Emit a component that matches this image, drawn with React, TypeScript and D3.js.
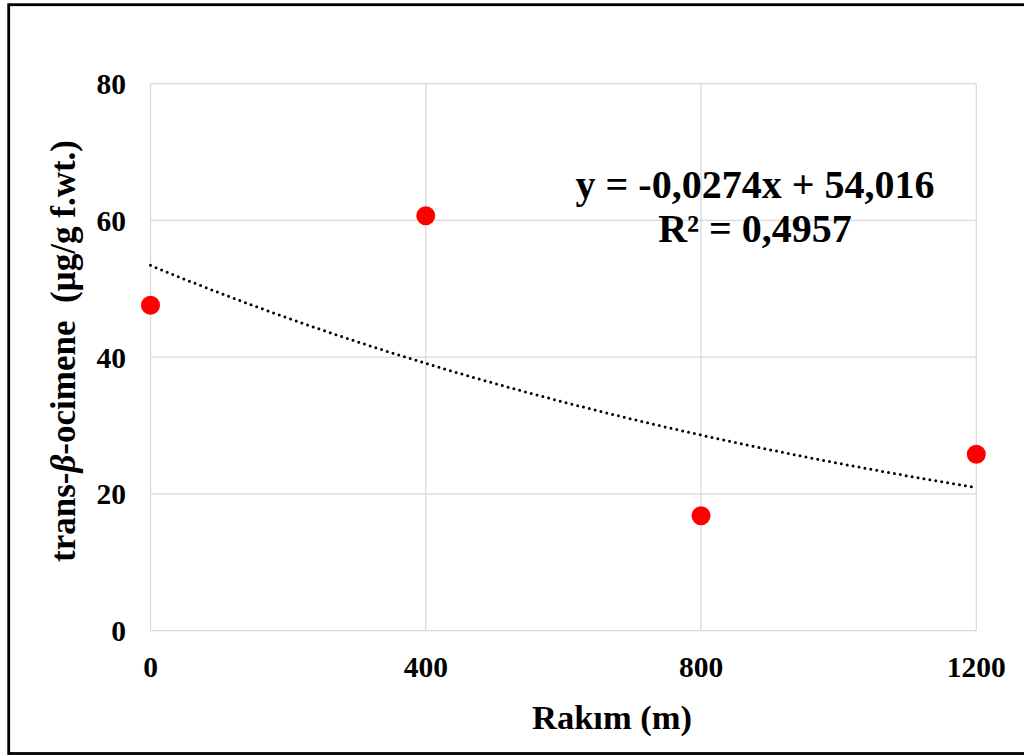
import React from "react";
import * as d3 from "d3";

const altitudes = [0, 400, 800, 1200];
const ocimene = [47.6, 60.7, 16.8, 25.8];
const xTicks = [0, 400, 800, 1200];
const yTicks = [0, 20, 40, 60, 80];
const equationText = "y = -0,0274x + 54,016";
const r2Text = "R² = 0,4957";

const W = 1024;
const H = 755;
const FONT = "'Liberation Serif', 'Times New Roman', serif";

export default function App() {
  const x = d3.scaleLinear().domain([0, 1200]).range([150.5, 976.3]);
  const y = d3.scaleLinear().domain([0, 80]).range([630.7, 83.7]);

  // exponential trend fit (least squares on ln y)
  const lnY = ocimene.map((v) => Math.log(v));
  const mx = d3.mean(altitudes)!;
  const my = d3.mean(lnY)!;
  let num = 0,
    den = 0;
  altitudes.forEach((xv, i) => {
    num += (xv - mx) * (lnY[i] - my);
    den += (xv - mx) * (xv - mx);
  });
  const b = num / den;
  const a = Math.exp(my - b * mx);
  const trendXs = d3.range(0, 1201, 10);
  const trendLine = d3
    .line<number>()
    .x((d) => x(d))
    .y((d) => y(a * Math.exp(b * d)))(trendXs);

  return (
    <div style={{ position: "absolute", left: 0, top: 0 }}>
      <svg width={W} height={H} style={{ display: "block" }}>
        <rect x={0} y={0} width={W} height={H} fill="#fff" />
        <rect x={8.7} y={4.7} width={1040} height={748.8} fill="none" stroke="#000" strokeWidth={2.8} />
        {/* gridlines */}
        {yTicks.map((t) => (
          <line key={"gy" + t} x1={x(0)} x2={x(1200)} y1={y(t)} y2={y(t)} stroke="#d9d9d9" strokeWidth={1.3} />
        ))}
        {xTicks.map((t) => (
          <line key={"gx" + t} x1={x(t)} x2={x(t)} y1={y(0)} y2={y(80)} stroke="#d9d9d9" strokeWidth={1.3} />
        ))}
        {/* tick labels */}
        {yTicks.map((t) => (
          <text
            key={"ty" + t}
            x={126}
            y={y(t)}
            dy="0.35em"
            textAnchor="end"
            fontFamily={FONT}
            fontWeight="bold"
            fontSize={29.5}
            fill="#000"
          >
            {t}
          </text>
        ))}
        {xTicks.map((t) => (
          <text
            key={"tx" + t}
            x={x(t)}
            y={667}
            dy="0.35em"
            textAnchor="middle"
            fontFamily={FONT}
            fontWeight="bold"
            fontSize={29.5}
            fill="#000"
          >
            {t}
          </text>
        ))}
        {/* trendline */}
        <path
          d={trendLine || ""}
          fill="none"
          stroke="#000"
          strokeWidth={3}
          strokeLinecap="round"
          strokeDasharray="0,6"
        />
        {/* points */}
        {altitudes.map((xv, i) => (
          <circle key={"p" + i} cx={x(xv)} cy={y(ocimene[i])} r={9.5} fill="#ff0000" />
        ))}
        {/* equation */}
        <text x={755} y={198} textAnchor="middle" fontFamily={FONT} fontWeight="bold" fontSize={40} fill="#000">
          {equationText}
        </text>
        <text x={755} y={242} textAnchor="middle" fontFamily={FONT} fontWeight="bold" fontSize={40} fill="#000">
          {r2Text}
        </text>
        {/* axis titles */}
        <text x={612} y={717} dy="0.35em" textAnchor="middle" fontFamily={FONT} fontWeight="bold" fontSize={34.5} fill="#000">
          Rakım (m)
        </text>
        <text
          transform={`translate(63,351) rotate(-90)`}
          dy="0.35em"
          textAnchor="middle"
          fontFamily={FONT}
          fontWeight="bold"
          fontSize={35}
          fill="#000"
          style={{ whiteSpace: "pre" }}
        >
          <tspan>trans-</tspan>
          <tspan fontStyle="italic">β</tspan>
          <tspan>{"-ocimene  (µg/g f.wt.)"}</tspan>
        </text>
      </svg>
    </div>
  );
}
